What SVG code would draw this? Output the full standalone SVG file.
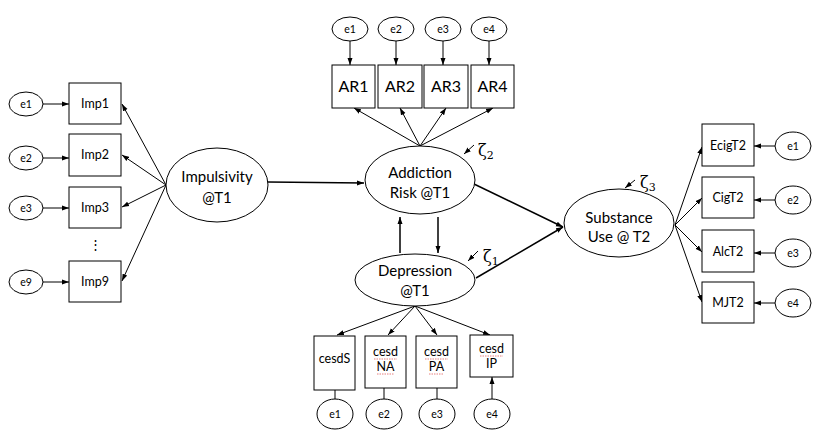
<svg xmlns="http://www.w3.org/2000/svg" width="822" height="442" viewBox="0 0 822 442">
<defs>
<marker id="ah" markerWidth="7" markerHeight="6" refX="7" refY="3" orient="auto" markerUnits="userSpaceOnUse">
<path d="M0,0.5 L7,3 L0,5.5 Z" fill="#000"/>
</marker>
</defs>
<style>
.n{fill:#fff;stroke:#000;stroke-width:1}
.t{font-family:Lato,"Liberation Sans",sans-serif;fill:#000;text-anchor:middle}
.big{font-size:15px}
.ar{font-size:16px}
.mid{font-size:12.5px}
.sm{font-size:10.5px}
.c line,.c path{stroke:#000;stroke-width:1;fill:none;marker-end:url(#ah)}
.th{stroke-width:1.5!important}
.sq{stroke:#e06060;stroke-width:0.8;fill:none;stroke-dasharray:1.5 1}
.z{font-family:"DejaVu Serif","Liberation Serif",serif;font-size:16px}
</style>
<rect width="822" height="442" fill="#fff"/>

<g id="connectors" class="c">
<!-- left indicators -->
<line x1="43" y1="104" x2="69" y2="104"/>
<line x1="43" y1="158" x2="69" y2="158"/>
<line x1="43" y1="208" x2="69" y2="208"/>
<line x1="43" y1="282" x2="69" y2="282"/>
<line x1="166" y1="185" x2="122" y2="104"/>
<line x1="166" y1="185" x2="122" y2="155"/>
<line x1="166" y1="185" x2="122" y2="207"/>
<line x1="166" y1="185" x2="122" y2="281"/>
<!-- top AR -->
<line x1="350" y1="41" x2="350" y2="65"/>
<line x1="396" y1="41" x2="396" y2="65"/>
<line x1="443" y1="41" x2="443" y2="65"/>
<line x1="489" y1="41" x2="489" y2="65"/>
<line x1="420" y1="146" x2="354" y2="108"/>
<line x1="420" y1="146" x2="400" y2="108"/>
<line x1="420" y1="146" x2="446" y2="108"/>
<line x1="420" y1="146" x2="493" y2="108"/>
<!-- structural -->
<line x1="268" y1="182" x2="364" y2="183" class="th"/>
<line x1="474" y1="184" x2="563" y2="227" class="th"/>
<line x1="476" y1="278" x2="563" y2="227" class="th"/>
<line x1="400" y1="253" x2="400" y2="217" class="th"/>
<line x1="438" y1="217" x2="438" y2="253" class="th"/>
<!-- bottom cesd -->
<line x1="415" y1="306" x2="337" y2="335"/>
<line x1="415" y1="306" x2="388" y2="335"/>
<line x1="415" y1="306" x2="437" y2="335"/>
<line x1="415" y1="306" x2="490" y2="335"/>
<line x1="335" y1="399" x2="335" y2="378"/>
<line x1="384" y1="399" x2="384" y2="377"/>
<line x1="437" y1="399" x2="437" y2="377"/>
<line x1="492" y1="399" x2="492" y2="377"/>
<!-- right -->
<line x1="675" y1="225" x2="702" y2="147"/>
<line x1="675" y1="225" x2="702" y2="198"/>
<line x1="675" y1="225" x2="702" y2="252"/>
<line x1="675" y1="225" x2="702" y2="302"/>
<line x1="775" y1="146" x2="754" y2="146"/>
<line x1="775" y1="200" x2="754" y2="200"/>
<line x1="775" y1="253" x2="754" y2="253"/>
<line x1="775" y1="303" x2="754" y2="303"/>
<!-- disturbances -->
<line x1="474" y1="145" x2="464" y2="154"/>
<line x1="478" y1="251" x2="468" y2="261"/>
<line x1="635" y1="180" x2="625" y2="188"/>
</g>

<g id="zeta2"><text class="z" x="478" y="156">ζ<tspan font-size="11" dy="3">2</tspan></text></g>
<g id="zeta1"><text class="z" x="483" y="262">ζ<tspan font-size="11" dy="3">1</tspan></text></g>
<g id="zeta3"><text class="z" x="640" y="188">ζ<tspan font-size="11" dy="3">3</tspan></text></g>

<!-- Left -->
<g id="imp_e1"><ellipse class="n" cx="26" cy="104" rx="17" ry="12"/><text class="t sm" x="26" y="108">e1</text></g>
<g id="imp_e2"><ellipse class="n" cx="26" cy="158" rx="17" ry="12"/><text class="t sm" x="26" y="162">e2</text></g>
<g id="imp_e3"><ellipse class="n" cx="26" cy="208" rx="17" ry="12"/><text class="t sm" x="26" y="212">e3</text></g>
<g id="imp_e9"><ellipse class="n" cx="26" cy="282" rx="17" ry="12"/><text class="t sm" x="26" y="286">e9</text></g>
<g id="Imp1"><rect class="n" x="69" y="83" width="52" height="41"/><text class="t mid" x="95" y="108">Imp1</text></g>
<g id="Imp2"><rect class="n" x="69" y="134" width="52" height="42"/><text class="t mid" x="95" y="159">Imp2</text></g>
<g id="Imp3"><rect class="n" x="69" y="187" width="52" height="41"/><text class="t mid" x="95" y="212">Imp3</text></g>
<g id="dots"><text class="t mid" x="95" y="249">⋮</text></g>
<g id="Imp9"><rect class="n" x="69" y="261" width="52" height="41"/><text class="t mid" x="95" y="286">Imp9</text></g>
<g id="Impulsivity"><ellipse class="n" cx="217" cy="185" rx="51" ry="37"/><text class="t big" x="217" y="182">Impulsivity</text><text class="t big" x="217" y="203">@T1</text></g>

<!-- Top -->
<g id="ar_e1"><ellipse class="n" cx="350" cy="29" rx="18" ry="12"/><text class="t sm" x="350" y="33">e1</text></g>
<g id="ar_e2"><ellipse class="n" cx="396" cy="29" rx="18" ry="12"/><text class="t sm" x="396" y="33">e2</text></g>
<g id="ar_e3"><ellipse class="n" cx="443" cy="29" rx="18" ry="12"/><text class="t sm" x="443" y="33">e3</text></g>
<g id="ar_e4"><ellipse class="n" cx="489" cy="29" rx="18" ry="12"/><text class="t sm" x="489" y="33">e4</text></g>
<g id="AR1"><rect class="n" x="332" y="65" width="43" height="43"/><text class="t ar" x="353.5" y="92">AR1</text></g>
<g id="AR2"><rect class="n" x="378" y="65" width="44" height="43"/><text class="t ar" x="400" y="92">AR2</text></g>
<g id="AR3"><rect class="n" x="424" y="65" width="44" height="43"/><text class="t ar" x="446" y="92">AR3</text></g>
<g id="AR4"><rect class="n" x="471" y="65" width="43" height="43"/><text class="t ar" x="492.5" y="92">AR4</text></g>
<g id="Addiction"><ellipse class="n" cx="420" cy="180" rx="55" ry="34"/><text class="t big" x="420" y="178">Addiction</text><text class="t big" x="420" y="198">Risk @T1</text></g>

<!-- Depression -->
<g id="Depression"><ellipse class="n" cx="415" cy="280" rx="60" ry="26"/><text class="t big" x="415" y="276">Depression</text><text class="t big" x="415" y="296">@T1</text></g>
<g id="cesdS"><rect class="n" x="314" y="336" width="41" height="54"/><text class="t mid" x="334.5" y="363">cesdS</text></g>
<g id="cesdNA"><rect class="n" x="365" y="336" width="41" height="52"/><text class="t mid" x="385.5" y="356">cesd</text><text class="t mid" x="385.5" y="371">NA</text>
<path class="sq" d="M374,359 h23 M377,374 h17"/></g>
<g id="cesdPA"><rect class="n" x="416" y="336" width="41" height="52"/><text class="t mid" x="436.5" y="356">cesd</text><text class="t mid" x="436.5" y="371">PA</text>
<path class="sq" d="M425,359 h23 M429,374 h15"/></g>
<g id="cesdIP"><rect class="n" x="470" y="335" width="43" height="42"/><text class="t mid" x="491.5" y="353">cesd</text><text class="t mid" x="491.5" y="368">IP</text>
<path class="sq" d="M480,356 h23"/></g>
<g id="dep_e1"><ellipse class="n" cx="335" cy="414" rx="18" ry="15"/><text class="t sm" x="335" y="418">e1</text></g>
<g id="dep_e2"><ellipse class="n" cx="384" cy="414" rx="18" ry="15"/><text class="t sm" x="384" y="418">e2</text></g>
<g id="dep_e3"><ellipse class="n" cx="437" cy="414" rx="18" ry="15"/><text class="t sm" x="437" y="418">e3</text></g>
<g id="dep_e4"><ellipse class="n" cx="492" cy="414" rx="18" ry="15"/><text class="t sm" x="492" y="418">e4</text></g>

<!-- Right -->
<g id="Substance"><ellipse class="n" cx="619" cy="223" rx="55" ry="34"/><text class="t big" x="619" y="223">Substance</text><text class="t big" x="619" y="242">Use @ T2</text></g>
<g id="EcigT2"><rect class="n" x="702" y="124" width="52" height="42"/><text class="t mid" x="728" y="150">EcigT2</text></g>
<g id="CigT2"><rect class="n" x="702" y="177" width="52" height="41"/><text class="t mid" x="728" y="202">CigT2</text></g>
<g id="AlcT2"><rect class="n" x="702" y="230" width="52" height="42"/><text class="t mid" x="728" y="256">AlcT2</text></g>
<g id="MJT2"><rect class="n" x="702" y="282" width="52" height="41"/><text class="t mid" x="728" y="307">MJT2</text></g>
<g id="su_e1"><ellipse class="n" cx="793" cy="146" rx="18" ry="14"/><text class="t sm" x="793" y="150">e1</text></g>
<g id="su_e2"><ellipse class="n" cx="793" cy="200" rx="18" ry="14"/><text class="t sm" x="793" y="204">e2</text></g>
<g id="su_e3"><ellipse class="n" cx="793" cy="253" rx="18" ry="14"/><text class="t sm" x="793" y="257">e3</text></g>
<g id="su_e4"><ellipse class="n" cx="793" cy="303" rx="18" ry="14"/><text class="t sm" x="793" y="307">e4</text></g>
</svg>
